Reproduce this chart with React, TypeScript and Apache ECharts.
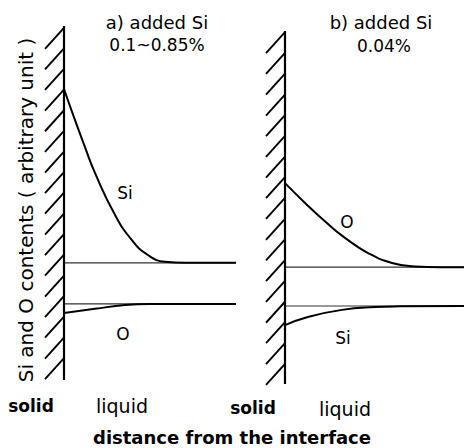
import React, { useEffect, useRef } from "react";
import * as echarts from "echarts";

// panel a) added Si 0.1~0.85 %
const distSiA = [0, 0.64, 1.22, 1.8, 2.97, 3.95, 4.88, 5.87, 7.03, 10];
const siA = [82.2, 73.4, 65.8, 58.5, 46.6, 39.5, 35.3, 33.4, 33.1, 33.1];
const distOA = [0, 1.8, 3.55, 5, 10];
const oA = [18.9, 20.1, 21.2, 21.5, 21.5];
const levelSiA = 33.1;
const levelOA = 21.5;

// panel b) added Si 0.04 %
const distOB = [0, 1.12, 2.23, 3.35, 4.64, 5.98, 7.26, 8.66, 10];
const oB = [56.9, 51.3, 46.1, 41.4, 37.1, 34.3, 33.3, 33.1, 33.1];
const distSiB = [0, 1.28, 3.18, 5.03, 6.42, 10];
const siB = [16.7, 19.0, 21.0, 21.8, 22.0, 22.1];
const levelOB = 33.1;
const levelSiB = 22.1;

// hatch positions along the walls (content axis units)
const hatchA = [99.5, 93.7, 87.9, 82.0, 76.2, 70.4, 64.5, 58.7, 52.9, 47.0, 41.2, 35.4, 29.5, 23.7, 17.9, 12.0, 6.2];
const hatchB = [99.7, 93.8, 87.9, 82.0, 76.2, 70.3, 64.4, 58.6, 52.7, 46.8, 41.0, 35.1, 29.2, 23.3, 17.5, 11.6, 5.7];

const FONT = "'DejaVu Sans', sans-serif";

function zip(xs: number[], ys: number[]) {
  return xs.map((x, i) => [x, ys[i]]);
}

export default function App() {
  const ref = useRef<HTMLDivElement>(null);
  useEffect(() => {
    document.body.style.margin = "0";
    const chart = echarts.init(ref.current!, undefined, { renderer: "svg" });

    const axisX = (gi: number) => ({
      type: "value" as const, gridIndex: gi, min: 0, max: 10, show: false,
    });
    const axisY = (gi: number) => ({
      type: "value" as const, gridIndex: gi, min: 0, max: 100, show: false,
    });

    const curve = (idx: number, data: number[][]) => ({
      type: "line", xAxisIndex: idx, yAxisIndex: idx, data,
      smooth: 0.5, symbol: "none", clip: false,
      lineStyle: { color: "#000", width: 2 }, z: 3,
    });
    const level = (idx: number, y: number) => ({
      type: "line", xAxisIndex: idx, yAxisIndex: idx, data: [[0, y], [10, y]],
      symbol: "none", clip: false,
      lineStyle: { color: "#333", width: 1.2 }, z: 2,
    });
    const wall = (idx: number) => ({
      type: "line", xAxisIndex: idx, yAxisIndex: idx, data: [[0, 0], [0, 100]],
      symbol: "none", clip: false,
      lineStyle: { color: "#000", width: 2.2 }, z: 4,
    });
    const hatch = (idx: number, ys: number[]) => ({
      type: "custom", xAxisIndex: idx, yAxisIndex: idx,
      data: ys.map((y) => [0, y]), clip: false,
      renderItem: (_p: any, api: any) => {
        const p = api.coord([0, api.value(1)]);
        return {
          type: "line",
          shape: { x1: p[0], y1: p[1], x2: p[0] - 19, y2: p[1] + 21 },
          style: { stroke: "#000", lineWidth: 1.9 },
        };
      },
      z: 4,
    });

    const txt = (text: string, x: number, y: number, size: number, weight = "normal", rotation = 0) => ({
      type: "text", x, y, rotation,
      style: {
        text, font: `${weight} ${size}px ${FONT}`, fill: "#000",
        align: "center", verticalAlign: "middle",
        textAlign: "center", textVerticalAlign: "middle",
      },
    });

    chart.setOption({
      animation: false,
      backgroundColor: "#fff",
      grid: [
        { left: 64, top: 26, width: 172, height: 354 },
        { left: 285, top: 31, width: 179, height: 353 },
      ],
      xAxis: [axisX(0), axisX(1)],
      yAxis: [axisY(0), axisY(1)],
      series: [
        wall(0), hatch(0, hatchA),
        level(0, levelSiA), level(0, levelOA),
        curve(0, zip(distSiA, siA)), curve(0, zip(distOA, oA)),
        wall(1), hatch(1, hatchB),
        level(1, levelOB), level(1, levelSiB),
        curve(1, zip(distOB, oB)), curve(1, zip(distSiB, siB)),
      ],
      graphic: [
        txt("a) added Si", 157, 22, 18),
        txt("0.1~0.85%", 157, 45, 17),
        txt("b) added Si", 381, 22, 18),
        txt("0.04%", 384, 46, 17),
        txt("Si", 125, 193, 17),
        txt("O", 123, 334, 17),
        txt("O", 347, 222, 17),
        txt("Si", 343, 338, 17),
        txt("solid", 31, 406, 17, "bold"),
        txt("liquid", 122, 406, 19),
        txt("solid", 253, 408, 17, "bold"),
        txt("liquid", 345, 409, 19),
        txt("distance from the interface", 232, 437, 18, "bold"),
        txt("Si and O contents ( arbitrary unit )", 26, 210, 20, "normal", Math.PI / 2),
      ],
    });
    return () => chart.dispose();
  }, []);
  return <div ref={ref} style={{ width: 464, height: 448 }} />;
}
